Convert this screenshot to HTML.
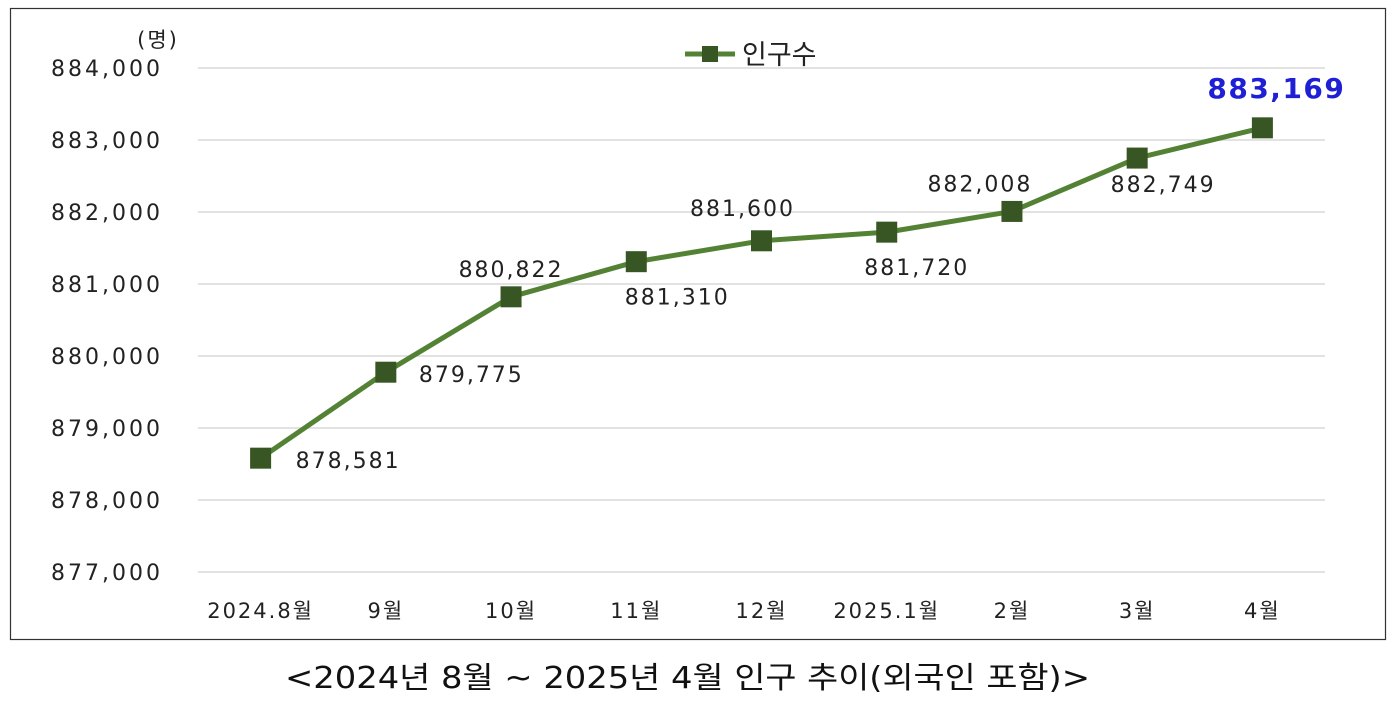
<!DOCTYPE html>
<html><head><meta charset="utf-8"><style>
body{margin:0;background:#fff;width:1400px;height:709px;overflow:hidden}
svg text{font-family:"DejaVu Sans","Noto Sans CJK KR",sans-serif}
</style></head><body>
<svg id="c" width="1400" height="709">
<rect x="10.5" y="8.5" width="1375" height="631" fill="#fff" stroke="#333" stroke-width="1.2"/>
<text x="158" y="47" font-size="21" text-anchor="middle" fill="#222" letter-spacing="2">(명)</text>
<g>
<line x1="685" y1="54" x2="735" y2="54" stroke="#548235" stroke-width="5"/>
<rect x="702" y="46" width="16" height="16" fill="#375623"/>
<text x="742" y="64" font-size="27" fill="#222">인구수</text>
</g>
<g id="grid"></g><g id="xl"></g><g id="line"></g>
<text x="285" y="688" font-size="30" textLength="805" lengthAdjust="spacingAndGlyphs" fill="#111">&lt;2024년 8월 ~ 2025년 4월 인구 추이(외국인 포함)&gt;</text>
</svg>
<script>
const categories=["2024.8월","9월","10월","11월","12월","2025.1월","2월","3월","4월"];
const values=[878581,879775,880822,881310,881600,881720,882008,882749,883169];
const yTicks=[877000,878000,879000,880000,881000,882000,883000,884000];
const labelDx=[35,33,0,41,-19,30,-32,26,14];
const labelDy=[10,10,-20,43,-25,43,-20,34,-30];
const labelAnchor=["start","start","middle","middle","middle","middle","middle","middle","middle"];
const NS="http://www.w3.org/2000/svg";
const x0=198,x1=1325,band=(x1-x0)/categories.length;
const X=i=>x0+band*(i+0.5);
const Y=v=>572-(v-877000)*0.072;
function mk(t,a,p){const e=document.createElementNS(NS,t);for(const k in a)e.setAttribute(k,a[k]);p.appendChild(e);return e;}
const g=document.getElementById('grid');
yTicks.forEach(t=>{
 const l=mk('line',{x1:x0,x2:x1,y1:Y(t),y2:Y(t),stroke:'#d9d9d9','stroke-width':1.5},g);
 
 
 const tx=mk('text',{x:163,y:Y(t)+8,'font-size':22,'letter-spacing':3,'text-anchor':'end',fill:'#222'},g);
 tx.textContent=t.toLocaleString('en-US');
 
 
});
const xl=document.getElementById('xl');
categories.forEach((c,i)=>{
 const tx=mk('text',{x:X(i),y:618,'font-size':21,'letter-spacing':2,'text-anchor':'middle',fill:'#222'},xl);
 tx.textContent=c;
 
 
});
const lg=document.getElementById('line');
const pl=mk('polyline',{points:values.map((v,i)=>X(i)+','+Y(v)).join(' '),fill:'none',stroke:'#548235','stroke-width':5,'stroke-linejoin':'round'},lg);


values.forEach((v,i)=>{
 const r=mk('rect',{x:X(i)-10.5,y:Y(v)-10.5,width:21,height:21,fill:'#375623'},lg);
 
 
 const last=i===values.length-1;
 const t=mk('text',{x:X(i)+labelDx[i],y:Y(v)+labelDy[i],'font-size':last?28:22,'letter-spacing':last?1.5:2,'font-weight':last?'bold':'normal','text-anchor':labelAnchor[i],fill:last?'#1f1fd6':'#222'},lg);
 t.textContent=v.toLocaleString('en-US');
 
 
});
</script>
</body></html>
